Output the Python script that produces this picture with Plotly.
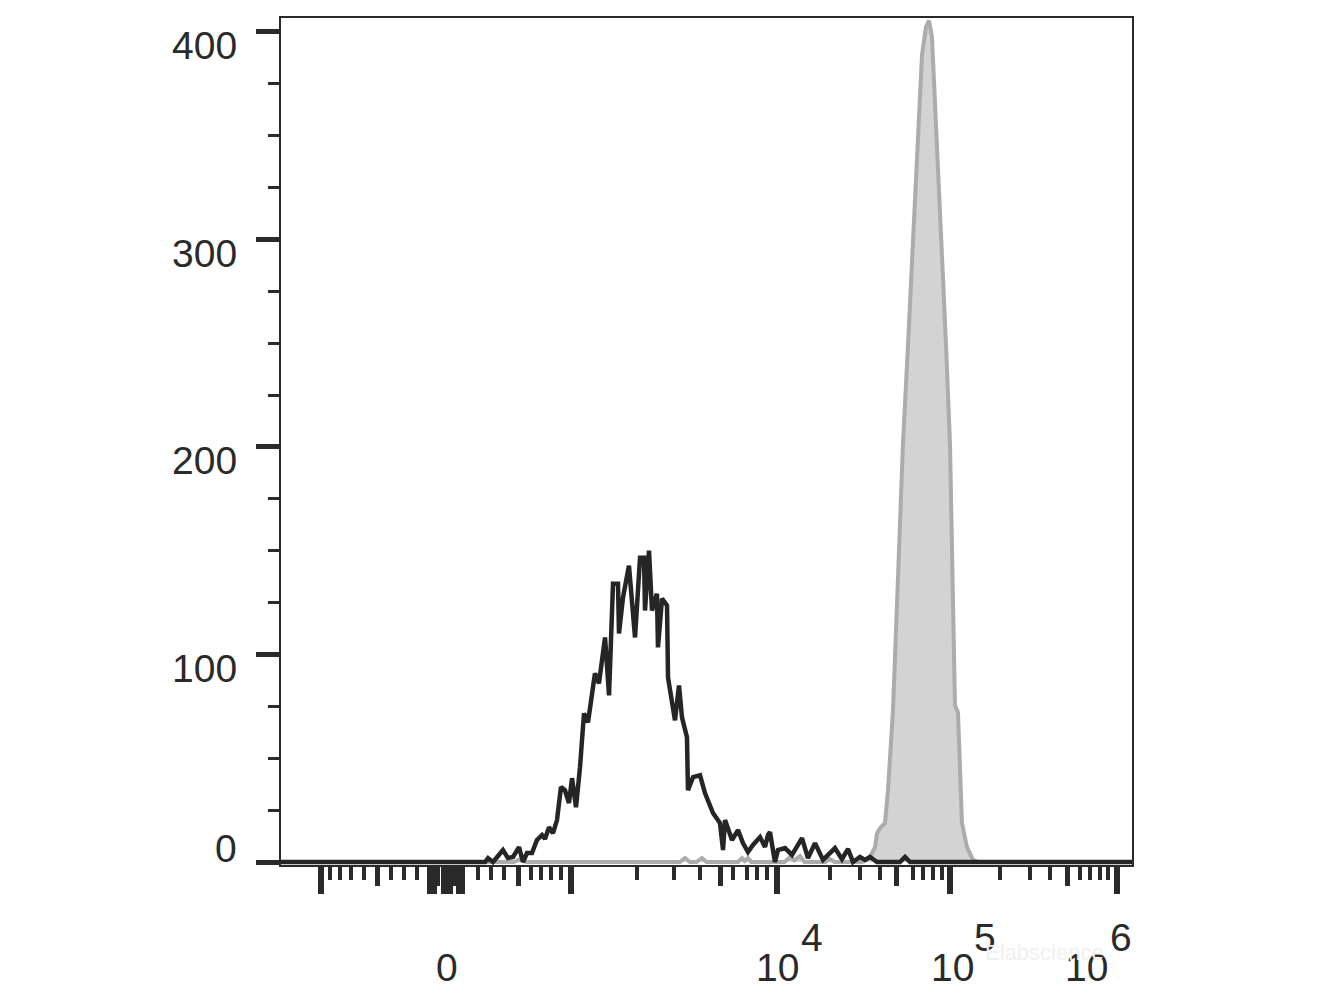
import plotly.graph_objects as go

# ---- data (x in display channels 0..1024, y in cell counts) ----
black_x = [0, 245.5, 249.1, 255.1, 267.1, 273.1, 279.2, 286.4, 291.2, 296.0, 302.0, 308.0, 314.1, 317.7,
           322.5, 327.3, 332.1, 336.9, 341.7, 346.5, 350.2, 355.0, 359.8, 364.6, 369.4, 377.8, 382.6,
           389.9, 394.7, 399.5, 405.5, 406.7, 411.5, 418.7, 426.0, 432.0, 436.8, 438.0, 442.8, 446.4,
           452.4, 453.6, 458.5, 464.5, 465.7, 474.1, 478.9, 482.5, 488.5, 489.7, 495.8, 504.2, 510.2,
           519.8, 528.2, 531.9, 534.3, 542.7, 549.9, 555.9, 561.9, 567.9, 576.4, 582.4, 586.0, 588.4,
           594.4, 598.0, 606.5, 614.9, 626.9, 634.1, 642.6, 652.2, 666.6, 675.0, 682.3, 688.3, 696.7,
           702.7, 708.7, 717.2, 744.8, 750.9, 756.9, 1024]
black_y = [0, 0, 1.9, 0, 5.8, 1.9, 2.4, 7.2, 0, 4.3, 4.3, 10.6, 13.0, 11.1,
           16.8, 13.9, 20.2, 36.1, 34.6, 28.4, 40.4, 26.4, 45.7, 71.6, 67.3, 90.9, 86.1,
           108.2, 80.3, 134.1, 134.1, 110.1, 127.4, 142.8, 108.2, 146.6, 146.6, 121.2, 150.0, 121.2,
           129.3, 103.4, 126.9, 123.6, 88.9, 68.3, 85.1, 69.7, 60.1, 34.6, 40.9, 41.8, 33.2,
           23.6, 18.8, 5.8, 20.2, 10.6, 15.4, 9.1, 4.8, 8.2, 12.0, 7.2, 13.0, 14.4,
           0, 5.8, 6.7, 3.4, 11.5, 1.9, 9.1, 1.0, 6.7, 1.4, 6.3, 0, 2.4,
           1.0, 2.4, 0, 0, 2.4, 0, 0]

gray_x = [0, 280.0, 287.6, 295.0, 480.0, 486.1, 492.0, 500.0, 506.6, 512.0, 550.0, 554.7, 558.0,
          561.9, 566.0, 606.0, 612.5, 618.0, 624.5, 630.0, 655.0, 660.6, 666.0, 699.1, 705.1, 708.7,
          714.8, 717.2, 720.8, 726.8, 730.4, 736.4, 742.4, 748.4, 754.5, 760.5, 766.5, 771.3, 776.1,
          779.7, 783.3, 789.4, 795.4, 800.2, 805.0, 808.6, 811.0, 814.6, 817.0, 819.4, 825.4, 832.7,
          838.7, 1024]
gray_y = [0, 0, 1.4, 0, 0, 1.9, 0, 0, 1.9, 0, 0, 1.9, 0.5,
          1.9, 0, 0, 2.4, 0.8, 2.9, 0, 0, 1.4, 0, 0, 1.0, 2.4,
          7.2, 13.9, 16.3, 18.8, 34.6, 73.1, 137.0, 201.4, 249.5, 297.6, 345.7, 388.9, 402.4,
          405.5, 397.6, 345.7, 297.6, 249.5, 201.4, 137.0, 75.5, 72.1, 39.4, 18.8, 7.2, 1.0,
          0, 0]

# tick positions (display channels)
x_long_ticks = [48.1, 179.3, 184.1, 196.1, 199.7, 203.4, 214.2, 217.8, 349.0, 596.8, 805.0, 1006.0]
x_mid_ticks = [116.7, 188.9, 209.4, 285.2, 529.4, 741.2, 945.8]
x_small_ticks = [59.0, 71.0, 84.2, 99.9, 132.4, 148.0, 163.6, 237.0, 252.7, 268.3, 300.8, 312.9,
                 324.9, 336.9, 428.4, 472.9, 504.2, 543.9, 560.7, 572.8, 584.8, 660.6, 696.7,
                 720.8, 760.5, 772.5, 784.5, 795.4, 865.2, 901.3, 925.3, 961.4, 973.5, 985.5, 995.1]
x_label_pos = [199.7, 596.8, 805.0, 1006.0]
x_label_base = ["0", "10", "10", "10"]
x_label_exp = ["", "4", "5", "6"]

y_major = [0, 100, 200, 300, 400]
y_minor = [25, 50, 75, 125, 150, 175, 225, 250, 275, 325, 350, 375]
y_labels = ["0", "100", "200", "300", "400"]

INK = "#2a2a2a"
FONT = "Arial, Liberation Sans, sans-serif"

fig = go.Figure()
fig.add_trace(go.Scatter(x=gray_x, y=gray_y, mode="lines", fill="tozeroy",
                         fillcolor="#d3d3d3", line=dict(color="#acacac", width=4),
                         hoverinfo="skip", showlegend=False))
fig.add_trace(go.Scatter(x=black_x, y=black_y, mode="lines",
                         line=dict(color="#252525", width=4.5),
                         hoverinfo="skip", showlegend=False))
# invisible trace to activate overlay axis for medium ticks
fig.add_trace(go.Scatter(x=[0, 1024], y=[None, None], xaxis="x2", mode="lines",
                         showlegend=False, hoverinfo="skip"))

fig.update_layout(
    width=1310, height=980,
    margin=dict(l=273, r=186, t=8, b=123),
    paper_bgcolor="white", plot_bgcolor="white",
    font=dict(family=FONT, color=INK),
    xaxis=dict(range=[0, 1024], showgrid=False, zeroline=False,
               showline=True, mirror=True, linecolor=INK, linewidth=2,
               tickmode="array", tickvals=x_long_ticks, showticklabels=False,
               ticks="outside", ticklen=27, tickwidth=6, tickcolor=INK,
               minor=dict(tickmode="array", tickvals=x_small_ticks, ticks="outside",
                          ticklen=13, tickwidth=4, tickcolor=INK, showgrid=False)),
    xaxis2=dict(range=[0, 1024], overlaying="x", anchor="y", side="bottom",
                showgrid=False, zeroline=False, showline=False,
                tickmode="array", tickvals=x_mid_ticks, showticklabels=False,
                ticks="outside", ticklen=20, tickwidth=5, tickcolor=INK),
    yaxis=dict(range=[-1.44, 406.7], showgrid=False, zeroline=False,
               showline=True, mirror=True, linecolor=INK, linewidth=2,
               tickmode="array", tickvals=y_major, showticklabels=False,
               ticks="outside", ticklen=23, tickwidth=5, tickcolor=INK,
               minor=dict(tickmode="array", tickvals=y_minor, ticks="outside",
                          ticklen=11, tickwidth=3, tickcolor=INK, showgrid=False)),
)

annotations = []
for v, lab in zip(y_major, y_labels):
    annotations.append(dict(xref="paper", yref="y", x=0, y=v, text=lab, showarrow=False,
                            xanchor="right", yanchor="middle", xshift=-42,
                            yshift=(14 if v == 0 else -14),
                            font=dict(size=39, family=FONT, color=INK)))

base_shift = [0, 1, 2, -31]
exp_shift = [0, 22, 22, -9]
for pos, b, e, bs, es in zip(x_label_pos, x_label_base, x_label_exp, base_shift, exp_shift):
    annotations.append(dict(xref="x", yref="paper", x=pos, y=0, text=b, showarrow=False,
                            xanchor="center", yanchor="middle", xshift=bs, yshift=-102,
                            font=dict(size=39, family=FONT, color=INK)))
    if e:
        annotations.append(dict(xref="x", yref="paper", x=pos, y=0, text=e, showarrow=False,
                                xanchor="left", yanchor="middle", xshift=es, yshift=-72,
                                font=dict(size=39, family=FONT, color=INK)))

annotations.append(dict(xref="paper", yref="paper", x=0.897, y=0, text="Elabscience",
                        showarrow=False, xanchor="center", yanchor="middle", yshift=-87,
                        font=dict(size=22, family=FONT, color="#f0f0f0")))
fig.update_layout(annotations=annotations)

fig.write_html("out.html")
